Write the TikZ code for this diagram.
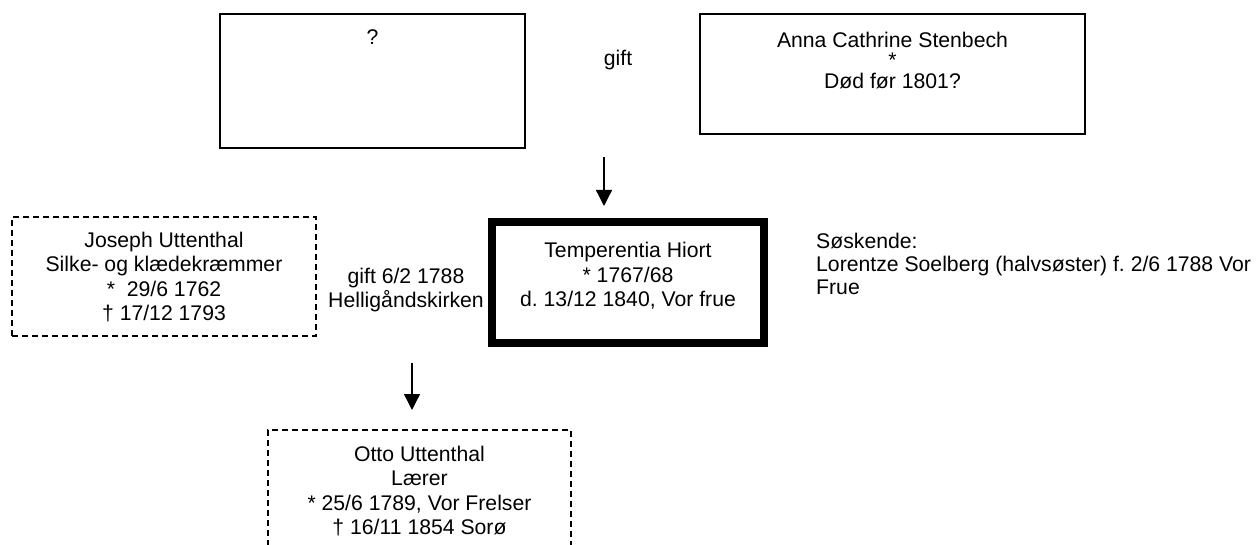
\documentclass[tikz,border=0pt]{standalone}
\usepackage{fontspec}
\setmainfont{Liberation Sans}
\frenchspacing
\usetikzlibrary{positioning, arrows.meta}

\begin{document}
\begin{tikzpicture}[
    x=1pt, y=-1pt,
    every node/.style={inner sep=0pt, font=\fontsize{21.2}{24.5}\selectfont},
    person/.style={draw, line width=1.3pt},
    unsure/.style={draw, line width=1.3pt, dash pattern=on 6pt off 4pt},
    focus/.style={draw, line width=8pt},
    info/.style={align=center, anchor=north},
    descent/.style={line width=1.3pt, -{Triangle[width=16pt, length=16pt]}}
]
\useasboundingbox (0,0) rectangle (1256,545);
\clip (0,0) rectangle (1256,545);

% parents
\node at (372.5,81) [person, minimum width=305pt, minimum height=134pt] (father) {};
\node at (372.5,45) [anchor=base] (fathertxt) {?};
\node at (618,65.5) [anchor=base] (gift) {gift};
\node at (892.5,74) [person, minimum width=385pt, minimum height=120pt] (mother) {};
\node at (892.5,31.8) [info, font=\fontsize{21.2}{20.5}\selectfont] (mothertxt) {Anna Cathrine Stenbech\\*\\Død før 1801?};

\coordinate (fromparents) at (604,157);
\coordinate (tohiort) at (604,206);
\draw[descent] (fromparents) -- (tohiort);

% Temperentia and husband
\node at (164,276.5) [unsure, minimum width=304pt, minimum height=119pt] (joseph) {};
\node at (164,231.8) [info] (josephtxt) {Joseph Uttenthal\\Silke- og klædekræmmer\\*~~29/6 1762\\† 17/12 1793};
\node at (406,267.7) [info] (marriage) {gift 6/2 1788\\Helligåndskirken};
\node at (628,282.5) [focus, minimum width=272pt, minimum height=121pt] (hiort) {};
\node at (628,242) [info] (hiorttxt) {Temperentia Hiort\\* 1767/68\\d. 13/12 1840, Vor frue};
\node at (816,232.8) [anchor=north west, align=left, font=\fontsize{21.2}{23}\selectfont] (siblings) {Søskende:\\Lorentze Soelberg (halvsøster) f. 2/6 1788 Vor\\Frue};

\coordinate (frommarriage) at (412,363);
\coordinate (toson) at (412,410);
\draw[descent] (frommarriage) -- (toson);

% son
\node at (419.5,492) [unsure, minimum width=303pt, minimum height=124pt] (otto) {};
\node at (419.5,445.8) [info] (ottotxt) {Otto Uttenthal\\Lærer\\* 25/6 1789, Vor Frelser\\† 16/11 1854 Sorø};
\end{tikzpicture}
\end{document}
